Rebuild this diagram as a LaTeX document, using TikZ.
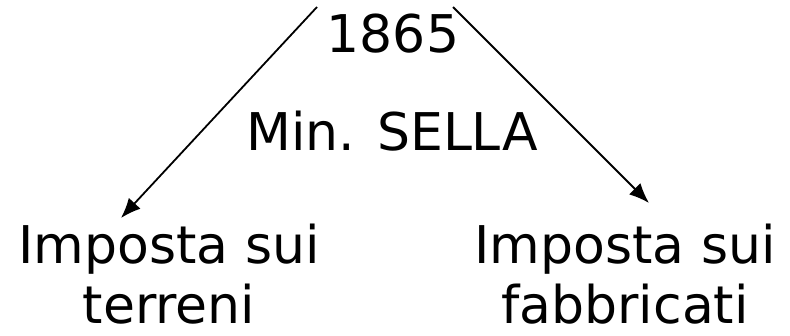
\documentclass[tikz,border=0pt]{standalone}
\usepackage{fontspec}
\setmainfont{DejaVu Sans}
\usetikzlibrary{arrows.meta}

\tikzset{
  testo/.style={inner sep=0pt, font=\fontsize{26pt}{30pt}\selectfont},
  freccia/.style={line width=0.9pt, -{Latex[length=10pt,width=8pt]}}
}

\begin{document}
\begin{tikzpicture}[x=0.5pt, y=-0.5pt]

    % Margini
    \useasboundingbox (0, 0) rectangle (790, 336);

    % Titolo
    \node[testo, anchor=base] (anno) at (393, 53) {1865};
    \node[testo, anchor=base] (ministro) at (392, 150) {Min. SELLA};

    % Imposte
    \node[testo, align=center, anchor=south] (terreni) at (169, 325)
      {Imposta sui\\terreni};
    \node[testo, align=center, anchor=south] (fabbricati) at (625, 325)
      {Imposta sui\\fabbricati};

    % Frecce
    \coordinate (partenzaS) at (317, 7);
    \coordinate (partenzaD) at (453, 7);
    \coordinate (puntaS) at (121, 218);
    \coordinate (puntaD) at (649, 203);
    \draw[freccia] (partenzaS) -- (puntaS);
    \draw[freccia] (partenzaD) -- (puntaD);

  \end{tikzpicture}
\end{document}
